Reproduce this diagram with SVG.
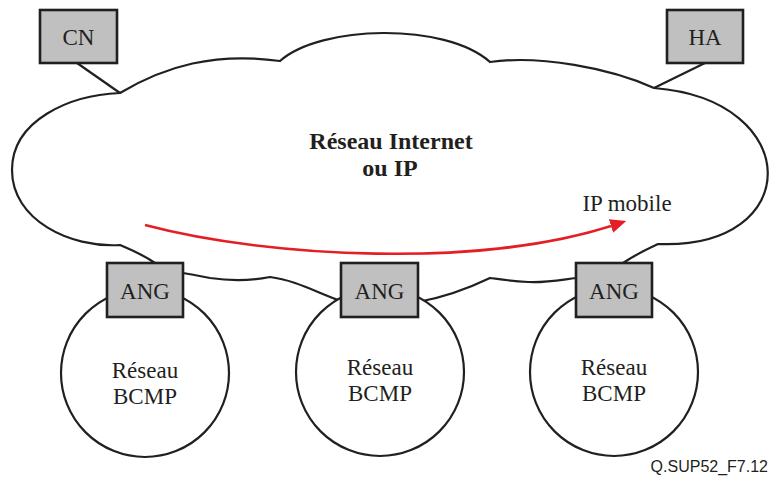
<svg xmlns="http://www.w3.org/2000/svg" width="770" height="477" viewBox="0 0 770 477">
  <style>
    .box { fill: #c0c0c0; stroke: #231f20; stroke-width: 2.6; }
    .net { fill: #ffffff; stroke: #231f20; stroke-width: 2.2; }
    .link { fill: none; stroke: #231f20; stroke-width: 2.2; }
    .lbl { font-family: "Liberation Serif", "Times New Roman", serif; font-size: 23px; fill: #231f20; text-anchor: middle; }
    .title { font-weight: bold; font-size: 24px; }
    .ref { font-family: "Liberation Sans", Arial, sans-serif; font-size: 16px; fill: #231f20; text-anchor: end; }
  </style>
  <defs>
    <marker id="arrowRed" markerWidth="16" markerHeight="14" viewBox="0 0 16 14" refX="0" refY="7" orient="auto" markerUnits="userSpaceOnUse">
      <path d="M0,0 L16,7 L0,14 Z" fill="#e31e24"/>
    </marker>
  </defs>
  <rect width="770" height="477" fill="#ffffff"/>

  <!-- Internet / IP cloud -->
  <g id="cloud">
    <path class="net" d="M120,93 C165,66 215,52 280,61 C320,25 445,22 490,62 C540,55 610,68 654,88 C805,100 805,250 658,244 C645,250 632,257 623,263 L576,278 C560,280 545,283 528,282 C510,281 498,279 490,278 C465,290 440,298 418,302 L341,301 C318,293 295,280 270,277 C250,281 230,281 210,278 C200,276 190,274 183,273 L155,263 C145,256 132,250 120,245 C70,248 12,220 12,170 C12,120 70,95 120,93 Z"/>
    <text class="lbl title" x="391" y="149">Réseau Internet</text>
    <text class="lbl title" x="390" y="176">ou IP</text>
  </g>

  <!-- Access networks -->
  <g id="bcmp1">
    <circle class="net" cx="145" cy="373" r="84"/>
    <text class="lbl" x="145" y="378">Réseau</text>
    <text class="lbl" x="145" y="404">BCMP</text>
  </g>
  <g id="bcmp2">
    <circle class="net" cx="380" cy="372" r="84"/>
    <text class="lbl" x="380" y="375">Réseau</text>
    <text class="lbl" x="380" y="401">BCMP</text>
  </g>
  <g id="bcmp3">
    <circle class="net" cx="614" cy="372" r="84"/>
    <text class="lbl" x="614" y="375">Réseau</text>
    <text class="lbl" x="614" y="401">BCMP</text>
  </g>

  <!-- Connectors -->
  <g id="connectors">
    <line class="link" x1="77" y1="63" x2="120" y2="93"/>
    <line class="link" x1="705" y1="63" x2="654" y2="88"/>
    <path d="M145,225 C270,258 480,268 611,226" fill="none" stroke="#e31e24" stroke-width="2.6" marker-end="url(#arrowRed)"/>
    <text class="lbl" x="627" y="211">IP mobile</text>
  </g>

  <!-- Nodes -->
  <g id="cn">
    <rect class="box" x="40" y="10" width="77" height="53"/>
    <text class="lbl" x="78.5" y="45">CN</text>
  </g>
  <g id="ha">
    <rect class="box" x="667" y="10" width="76" height="53"/>
    <text class="lbl" x="705" y="45">HA</text>
  </g>
  <g id="ang1">
    <rect class="box" x="107" y="263" width="76" height="54"/>
    <text class="lbl" x="145" y="299">ANG</text>
  </g>
  <g id="ang2">
    <rect class="box" x="341" y="263" width="77" height="54"/>
    <text class="lbl" x="379.5" y="299">ANG</text>
  </g>
  <g id="ang3">
    <rect class="box" x="576" y="263" width="76" height="54"/>
    <text class="lbl" x="614" y="299">ANG</text>
  </g>

  <text class="ref" x="768" y="472">Q.SUP52_F7.12</text>
</svg>
